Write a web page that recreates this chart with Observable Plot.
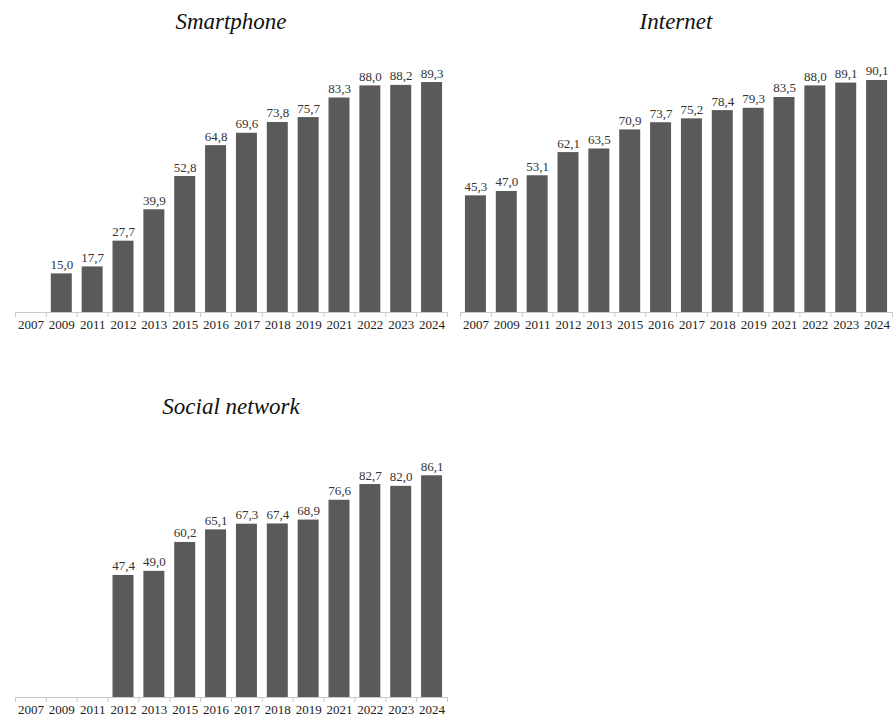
<!DOCTYPE html>
<html>
<head>
<meta charset="utf-8">
<script src="https://cdn.jsdelivr.net/npm/d3@7"></script>
<script src="https://cdn.jsdelivr.net/npm/@observablehq/plot@0.6"></script>
<style>
  html, body { margin: 0; padding: 0; background: #fff; }
  #root { position: relative; width: 893px; height: 717px; overflow: hidden; }
  .panel { position: absolute; }
  .title { position: absolute; font-family: "Liberation Serif", "DejaVu Serif", serif; font-style: italic; font-size: 23px; color: #111; text-align: center; width: 100%; top: 9px; left: 0; }
</style>
</head>
<body>
<div id="root"></div>
<script>
const years = ["2007","2009","2011","2012","2013","2015","2016","2017","2018","2019","2021","2022","2023","2024"];
const smartphone = [null, 15.0, 17.7, 27.7, 39.9, 52.8, 64.8, 69.6, 73.8, 75.7, 83.3, 88.0, 88.2, 89.3];
const internet = [45.3, 47.0, 53.1, 62.1, 63.5, 70.9, 73.7, 75.2, 78.4, 79.3, 83.5, 88.0, 89.1, 90.1];
const socialNetwork = [null, null, null, 47.4, 49.0, 60.2, 65.1, 67.3, 67.4, 68.9, 76.6, 82.7, 82.0, 86.1];
const titles = ["Smartphone", "Internet", "Social network"];

const root = document.getElementById("root");
const fmt = v => v.toFixed(1).replace(".", ",");

function panel(title, values, left, top, mLeft, mRight) {
  const data = years.map((y, i) => ({i, year: y, value: values[i]})).filter(d => d.value != null);
  const boundaries = d3.range(years.length + 1);
  const chart = Plot.plot({
    width: 450,
    height: 345,
    marginLeft: mLeft,
    marginRight: mRight,
    marginTop: 54.5,
    marginBottom: 33,
    style: {fontFamily: "'Liberation Serif', 'DejaVu Serif', serif", fontSize: "13px", color: "#222", background: "transparent"},
    x: {domain: [0, years.length], axis: null},
    y: {domain: [0, 100], axis: null},
    marks: [
      Plot.rectY(data, {x1: d => d.i + 0.16, x2: d => d.i + 0.84, y1: 0, y2: "value", fill: "#5a5a5a"}),
      Plot.text(data, {x: d => d.i + 0.5, y: "value", text: d => fmt(d.value), dy: -5, lineAnchor: "bottom", fontSize: 13, fill: "#333"}),
      Plot.ruleY([0], {stroke: "#c8c8c8", strokeWidth: 1}),
      Plot.ruleX(boundaries, {x: d => d, y1: 0, y2: 0, insetBottom: -5, stroke: "#c8c8c8"}),
      Plot.axisX(years.map((y, i) => i + 0.5), {tickSize: 0, tickPadding: 7, tickFormat: v => years[Math.floor(v)], fontSize: 13, fill: "#222", label: null})
    ]
  });
  const div = document.createElement("div");
  div.className = "panel";
  div.style.left = left + "px";
  div.style.top = top + "px";
  div.style.width = "450px";
  div.style.height = "345px";
  const t = document.createElement("div");
  t.className = "title";
  t.textContent = title;
  t.style.left = ((mLeft - mRight) / 2) + "px";
  div.appendChild(chart);
  div.appendChild(t);
  root.appendChild(div);
}

panel(titles[0], smartphone, 0, 0, 15, 3);
panel(titles[1], internet, 445, 0, 15, 3);
panel(titles[2], socialNetwork, 0, 385, 15, 3);
</script>
</body>
</html>
